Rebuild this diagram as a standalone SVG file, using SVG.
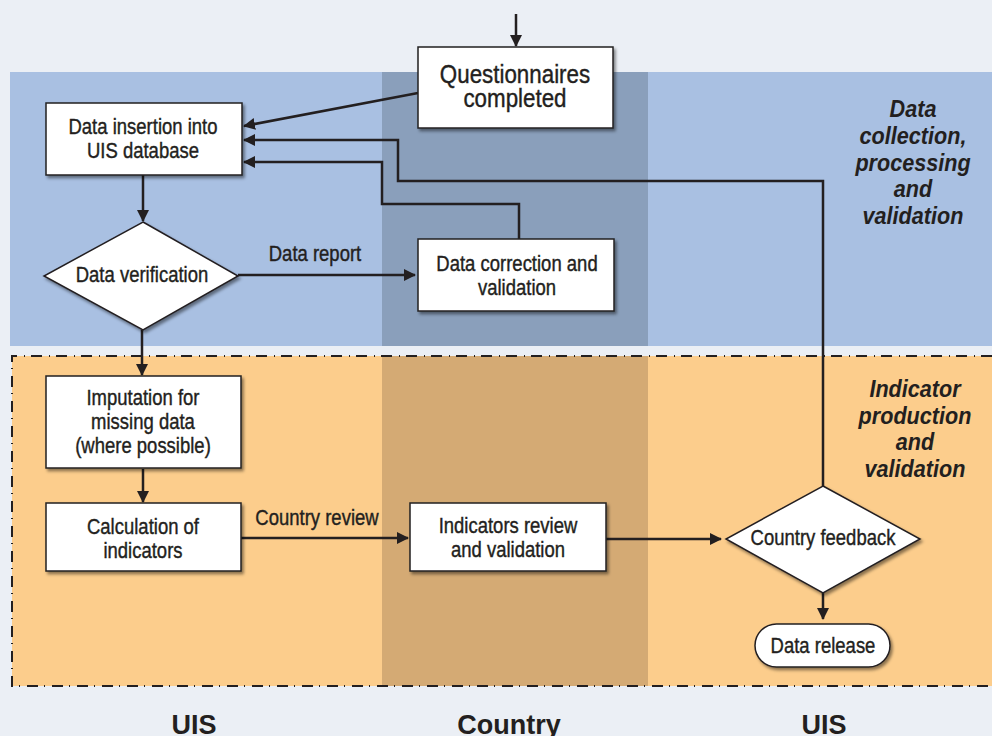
<svg xmlns="http://www.w3.org/2000/svg" width="992" height="736" viewBox="0 0 992 736">
<style>
.box{fill:#fff;stroke:#231f20;stroke-width:1.5;filter:url(#sh)}
.t{font-family:"Liberation Sans",Arial,sans-serif;font-size:21.5px;fill:#231f20;stroke:#231f20;stroke-width:0.4;text-anchor:middle}
.tb{font-size:26px}
.ti{font-family:"Liberation Sans",Arial,sans-serif;font-size:24px;font-weight:bold;font-style:italic;fill:#231f20;text-anchor:middle}
.lane{font-family:"Liberation Sans",Arial,sans-serif;font-size:27px;font-weight:bold;fill:#231f20;text-anchor:middle}
.c{fill:none;stroke:#231f20;stroke-width:2.5}
</style>
<defs>
<filter id="sh" x="-10%" y="-10%" width="130%" height="140%">
<feDropShadow dx="2" dy="2.5" stdDeviation="1.5" flood-color="#000" flood-opacity="0.45"/>
</filter>
<marker id="ah" viewBox="0 0 12 12" refX="11" refY="6" markerWidth="12" markerHeight="12" markerUnits="userSpaceOnUse" orient="auto">
<path d="M0,0 L12,6 L0,12 Z" fill="#231f20"/>
</marker>
</defs>
<rect width="992" height="736" fill="#ebeff5"/>
<g id="bands">
<rect x="10" y="72" width="982" height="274" fill="#a9c0e2"/>
<rect x="382" y="72" width="266" height="274" fill="#8a9fbb"/>
<rect x="12" y="356" width="980" height="330" fill="#fccd8c"/>
<rect x="382" y="356" width="266" height="330" fill="#d4aa74"/>
<path d="M992,356 H12 V686 H992" fill="none" stroke="#231f20" stroke-width="2" stroke-dasharray="11 6 1 7"/>
</g>
<g id="phase-labels">
<text class="ti" transform="matrix(0.9 0 0 1 91.3 0)"><tspan x="913" y="117">Data</tspan><tspan x="913" y="144">collection,</tspan><tspan x="913" y="171">processing</tspan><tspan x="913" y="197">and</tspan><tspan x="913" y="224">validation</tspan></text>
<text class="ti" transform="matrix(0.9 0 0 1 91.5 0)"><tspan x="915" y="397">Indicator</tspan><tspan x="915" y="424">production</tspan><tspan x="915" y="450">and</tspan><tspan x="915" y="477">validation</tspan></text>
</g>
<g id="lane-labels">
<text class="lane" x="194" y="734">UIS</text>
<text class="lane" x="509" y="734">Country</text>
<text class="lane" x="824" y="734">UIS</text>
</g>
<g id="connectors">
<path class="c" d="M516,14 V46" marker-end="url(#ah)"/>
<path class="c" d="M418,93 L244,126" marker-end="url(#ah)"/>
<path class="c" d="M823,486 V181 H398 V140 H244" marker-end="url(#ah)"/>
<path class="c" d="M519,239 V204 H382 V162 H244" marker-end="url(#ah)"/>
<path class="c" d="M143,175 V221" marker-end="url(#ah)"/>
<path class="c" d="M238,275 H415" marker-end="url(#ah)"/>
<path class="c" d="M142,330 V375" marker-end="url(#ah)"/>
<path class="c" d="M143,469 V502" marker-end="url(#ah)"/>
<path class="c" d="M241,538 H408" marker-end="url(#ah)"/>
<path class="c" d="M606,539 H721" marker-end="url(#ah)"/>
<path class="c" d="M823,593 V619" marker-end="url(#ah)"/>
<text class="t" transform="matrix(0.86 0 0 1 44.1 0)" x="315" y="261">Data report</text>
<text class="t" transform="matrix(0.86 0 0 1 44.38 0)" x="317" y="525">Country review</text>
</g>
<g id="questionnaires">
<rect class="box" x="418" y="47" width="195" height="81"/>
<text class="t tb" transform="matrix(0.86 0 0 1 72.1 0)"><tspan x="515" y="83">Questionnaires</tspan><tspan x="515" y="107">completed</tspan></text>
</g>
<g id="data-insertion">
<rect class="box" x="46" y="103" width="196" height="72"/>
<text class="t" transform="matrix(0.86 0 0 1 20.02 0)"><tspan x="143" y="134">Data insertion into</tspan><tspan x="143" y="158">UIS database</tspan></text>
</g>
<g id="data-verification">
<polygon class="box" points="143,222 238,276 143,330 44,276"/>
<text class="t" transform="matrix(0.86 0 0 1 19.88 0)" x="142" y="282">Data verification</text>
</g>
<g id="data-correction">
<rect class="box" x="418" y="239" width="196" height="72"/>
<text class="t" transform="matrix(0.86 0 0 1 72.38 0)"><tspan x="517" y="271">Data correction and</tspan><tspan x="517" y="295">validation</tspan></text>
</g>
<g id="imputation">
<rect class="box" x="46" y="376" width="195" height="92"/>
<text class="t" transform="matrix(0.86 0 0 1 20.02 0)"><tspan x="143" y="405">Imputation for</tspan><tspan x="143" y="429">missing data</tspan><tspan x="143" y="453">(where possible)</tspan></text>
</g>
<g id="calculation">
<rect class="box" x="46" y="503" width="195" height="68"/>
<text class="t" transform="matrix(0.86 0 0 1 20.02 0)"><tspan x="143" y="534">Calculation of</tspan><tspan x="143" y="558">indicators</tspan></text>
</g>
<g id="indicators-review">
<rect class="box" x="410" y="503" width="196" height="68"/>
<text class="t" transform="matrix(0.86 0 0 1 71.12 0)"><tspan x="508" y="533">Indicators review</tspan><tspan x="508" y="557">and validation</tspan></text>
</g>
<g id="country-feedback">
<polygon class="box" points="823,486 920,539 823,593 726,539"/>
<text class="t" transform="matrix(0.86 0 0 1 115.22 0)" x="823" y="545">Country feedback</text>
</g>
<g id="data-release">
<rect class="box" x="755" y="624" width="135" height="43" rx="21.5"/>
<text class="t" transform="matrix(0.86 0 0 1 115.22 0)" x="823" y="653">Data release</text>
</g>
</svg>
